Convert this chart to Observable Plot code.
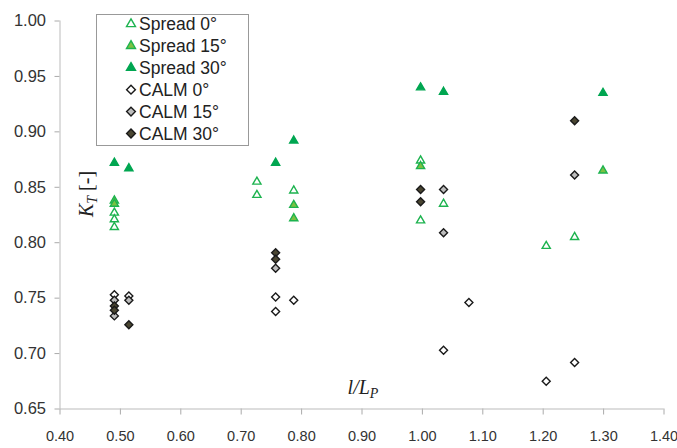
<!DOCTYPE html>
<html>
<head>
<meta charset="utf-8">
<script src="https://cdn.jsdelivr.net/npm/d3@7"></script>
<script src="https://cdn.jsdelivr.net/npm/@observablehq/plot@0.6"></script>
<style>
  html, body { margin: 0; padding: 0; background: #fff; }
  #chart { position: relative; width: 677px; height: 448px; }
</style>
</head>
<body>
<div id="chart"></div>
<script>
// ---- data ----
const seriesNames = ["Spread 0°", "Spread 15°", "Spread 30°", "CALM 0°", "CALM 15°", "CALM 30°"];
const spread0 = [[0.49,0.827],[0.49,0.821],[0.49,0.814],[0.726,0.855],[0.726,0.843],[0.787,0.847],[0.997,0.874],[0.997,0.820],[1.035,0.835],[1.205,0.797],[1.252,0.805]];
const spread15 = [[0.49,0.838],[0.49,0.835],[0.787,0.834],[0.787,0.822],[0.997,0.869],[1.299,0.865]];
const spread30 = [[0.49,0.872],[0.514,0.867],[0.757,0.872],[0.787,0.892],[0.997,0.940],[1.035,0.936],[1.299,0.935]];
const calm0 = [[0.49,0.753],[0.514,0.752],[0.757,0.751],[0.757,0.738],[0.787,0.748],[1.035,0.703],[1.077,0.746],[1.205,0.675],[1.252,0.692]];
const calm15 = [[0.49,0.748],[0.49,0.734],[0.514,0.748],[0.757,0.777],[1.035,0.848],[1.035,0.809],[1.252,0.861]];
const calm30 = [[0.49,0.743],[0.49,0.739],[0.514,0.726],[0.757,0.791],[0.757,0.785],[0.997,0.848],[0.997,0.837],[1.252,0.910]];
const xTicks = [0.40,0.50,0.60,0.70,0.80,0.90,1.00,1.10,1.20,1.30,1.40];
const yTicks = [0.65,0.70,0.75,0.80,0.85,0.90,0.95,1.00];

// ---- styles ----
const green = "#1db34f";
const styles = [
  {symbol: "triangle2", fill: "#ffffff", stroke: green, r: 3.9},
  {symbol: "triangle2", fill: "#7cc142", stroke: green, r: 3.9},
  {symbol: "triangle2", fill: "#00a651", stroke: "#00a651", r: 3.9},
  {symbol: "diamond2", fill: "#ffffff", stroke: "#1a1a1a", r: 3.6},
  {symbol: "diamond2", fill: "#bdbdbd", stroke: "#1a1a1a", r: 3.6},
  {symbol: "diamond2", fill: "#4a4632", stroke: "#1a1a1a", r: 3.6}
];
const allSeries = [spread0, spread15, spread30, calm0, calm15, calm30];

const dotMarks = allSeries.map((s, i) => Plot.dot(s, {
  x: d => d[0], y: d => d[1],
  symbol: styles[i].symbol, r: styles[i].r,
  fill: styles[i].fill, stroke: styles[i].stroke, strokeWidth: 1.4
}));

const chart = Plot.plot({
  width: 677,
  height: 448,
  marginLeft: 59.5,
  marginRight: 13.5,
  marginTop: 20.5,
  marginBottom: 39.5,
  style: {fontFamily: "Liberation Sans, Arial, sans-serif", background: "#fff", overflow: "visible"},
  x: {domain: [0.40, 1.40]},
  y: {domain: [0.65, 1.00]},
  marks: [
    Plot.axisY({ticks: yTicks, tickFormat: d3.format(".2f"), tickSize: 5, tickPadding: 9, stroke: "#aaaaaa", fill: "#333333", fontSize: 16.5, label: null}),
    Plot.axisX({ticks: xTicks, tickFormat: d3.format(".2f"), tickSize: 6, tickPadding: 16, stroke: "#aaaaaa", fill: "#333333", fontSize: 14.5, label: null}),
    Plot.ruleY([0.65], {stroke: "#bbbbbb"}),
    Plot.ruleX([0.40], {stroke: "#bbbbbb"}),
    ...dotMarks
  ]
});

document.getElementById("chart").appendChild(chart);

// ---- axis titles & legend (drawn inside the SVG) ----
const svg = d3.select(chart);

// x title  l/L_P
const xt = svg.append("text")
  .attr("x", 363).attr("y", 394)
  .attr("text-anchor", "middle")
  .attr("font-family", "Liberation Serif, Times New Roman, serif")
  .attr("font-style", "italic")
  .attr("font-size", 20)
  .attr("fill", "#222");
xt.append("tspan").text("l/L");
xt.append("tspan").attr("dy", 4).attr("font-size", 14).text("P");

// y title  K_T [-]
const yt = svg.append("text")
  .attr("transform", "translate(93,194) rotate(-90)")
  .attr("text-anchor", "middle")
  .attr("font-family", "Liberation Serif, Times New Roman, serif")
  .attr("font-size", 20)
  .attr("fill", "#222");
yt.append("tspan").attr("font-style", "italic").text("K");
yt.append("tspan").attr("font-style", "italic").attr("dy", 4).attr("font-size", 14).text("T");
yt.append("tspan").attr("dy", -4).text(" [-]");

// legend
const lg = svg.append("g").attr("text-anchor", "start");
lg.append("rect")
  .attr("x", 96.5).attr("y", 14.5).attr("width", 152).attr("height", 131)
  .attr("fill", "#fff").attr("stroke", "#999").attr("stroke-width", 1);
const symMap = {triangle2: d3.symbolTriangle2, diamond2: d3.symbolDiamond2};
seriesNames.forEach((name, i) => {
  const cy = 24 + i * 21.9;
  const st = styles[i];
  const rr = st.r * 1.1;
  lg.append("path")
    .attr("d", d3.symbol(symMap[st.symbol], Math.PI * rr * rr)())
    .attr("transform", `translate(131,${cy})`)
    .attr("fill", st.fill).attr("stroke", st.stroke).attr("stroke-width", 1.4);
  lg.append("text")
    .attr("x", 139).attr("y", cy).attr("dy", "0.36em")
    .attr("text-anchor", "start")
    .attr("font-size", 17.5).attr("fill", "#222")
    .attr("font-family", "Liberation Sans, Arial, sans-serif")
    .text(name);
});
</script>
</body>
</html>
